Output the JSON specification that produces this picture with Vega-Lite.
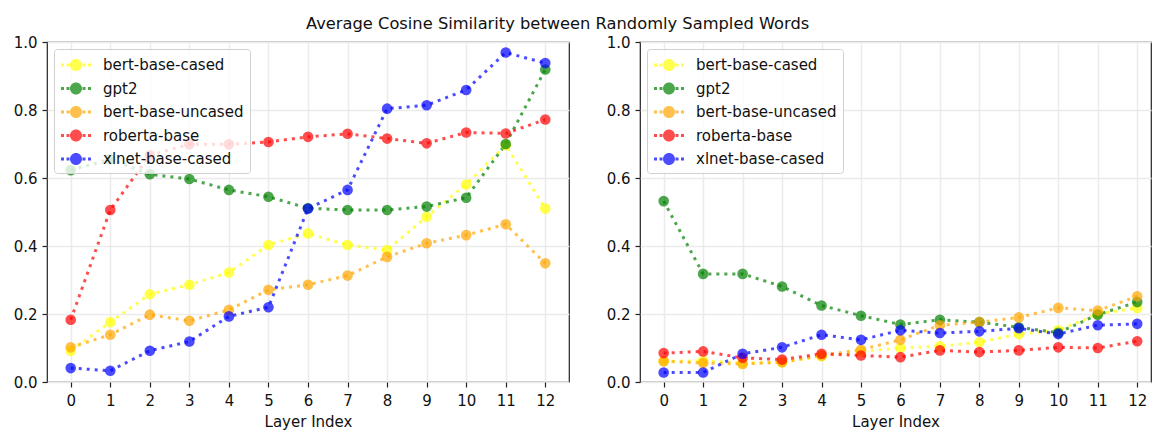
{
  "$schema": "https://vega.github.io/schema/vega-lite/v6.json",
  "background": "white",
  "padding": {"left": 12, "top": 16, "right": 0, "bottom": 0},
  "bounds": "flush",
  "title": {"text": "Average Cosine Similarity between Randomly Sampled Words", "fontSize": 16.3, "font": "DejaVu Sans", "fontWeight": "normal", "color": "#111", "anchor": "start", "frame": "group", "offset": 2, "dx": 259},
  "config": {
    "font": "DejaVu Sans",
    "view": {"stroke": "#222", "strokeWidth": 1.2},
    "axis": {"domain": false, "grid": true, "gridColor": "#ebebeb", "gridWidth": 1.5, "tickColor": "#222", "tickSize": 5, "tickWidth": 1.2, "labelFontSize": 15, "labelColor": "#111", "labelFont": "DejaVu Sans", "titleFont": "DejaVu Sans", "titleFontSize": 15, "titleFontWeight": "normal", "titleColor": "#111", "titlePadding": 6.5},
    "axisX": {"labelPadding": 6},
    "axisY": {"labelPadding": 5},
    "legend": {"orient": "top-left", "offset": 7, "padding": 6, "fillColor": "rgba(255,255,255,0.8)", "strokeColor": "#d0d0d0", "cornerRadius": 3, "labelFontSize": 15, "labelFont": "DejaVu Sans", "labelColor": "#111", "labelOffset": 17, "rowPadding": 5.5, "symbolSize": 400, "symbolOffset": 6, "symbolStrokeWidth": 0, "symbolOpacity": 0.7, "symbolType": "M-1.5,-0.15h0.3v0.3h-0.3z M-0.95,-0.15h0.3v0.3h-0.3z M0.65,-0.15h0.3v0.3h-0.3z M1.2,-0.15h0.3v0.3h-0.3z M-0.6,0a0.6,0.6 0 1,0 1.2,0a0.6,0.6 0 1,0 -1.2,0z"}
  },
  "datasets": {
    "left": [
      {"layer": 0, "model": "bert-base-cased", "value": 0.092}, {"layer": 1, "model": "bert-base-cased", "value": 0.176}, {"layer": 2, "model": "bert-base-cased", "value": 0.258}, {"layer": 3, "model": "bert-base-cased", "value": 0.286}, {"layer": 4, "model": "bert-base-cased", "value": 0.322}, {"layer": 5, "model": "bert-base-cased", "value": 0.403}, {"layer": 6, "model": "bert-base-cased", "value": 0.437}, {"layer": 7, "model": "bert-base-cased", "value": 0.403}, {"layer": 8, "model": "bert-base-cased", "value": 0.388}, {"layer": 9, "model": "bert-base-cased", "value": 0.486}, {"layer": 10, "model": "bert-base-cased", "value": 0.581}, {"layer": 11, "model": "bert-base-cased", "value": 0.697}, {"layer": 12, "model": "bert-base-cased", "value": 0.51},
      {"layer": 0, "model": "gpt2", "value": 0.623}, {"layer": 1, "model": "gpt2", "value": 0.655}, {"layer": 2, "model": "gpt2", "value": 0.611}, {"layer": 3, "model": "gpt2", "value": 0.597}, {"layer": 4, "model": "gpt2", "value": 0.565}, {"layer": 5, "model": "gpt2", "value": 0.545}, {"layer": 6, "model": "gpt2", "value": 0.511}, {"layer": 7, "model": "gpt2", "value": 0.506}, {"layer": 8, "model": "gpt2", "value": 0.506}, {"layer": 9, "model": "gpt2", "value": 0.516}, {"layer": 10, "model": "gpt2", "value": 0.542}, {"layer": 11, "model": "gpt2", "value": 0.70}, {"layer": 12, "model": "gpt2", "value": 0.919},
      {"layer": 0, "model": "bert-base-uncased", "value": 0.102}, {"layer": 1, "model": "bert-base-uncased", "value": 0.139}, {"layer": 2, "model": "bert-base-uncased", "value": 0.198}, {"layer": 3, "model": "bert-base-uncased", "value": 0.18}, {"layer": 4, "model": "bert-base-uncased", "value": 0.212}, {"layer": 5, "model": "bert-base-uncased", "value": 0.271}, {"layer": 6, "model": "bert-base-uncased", "value": 0.286}, {"layer": 7, "model": "bert-base-uncased", "value": 0.313}, {"layer": 8, "model": "bert-base-uncased", "value": 0.368}, {"layer": 9, "model": "bert-base-uncased", "value": 0.408}, {"layer": 10, "model": "bert-base-uncased", "value": 0.432}, {"layer": 11, "model": "bert-base-uncased", "value": 0.464}, {"layer": 12, "model": "bert-base-uncased", "value": 0.349},
      {"layer": 0, "model": "roberta-base", "value": 0.183}, {"layer": 1, "model": "roberta-base", "value": 0.506}, {"layer": 2, "model": "roberta-base", "value": 0.667}, {"layer": 3, "model": "roberta-base", "value": 0.699}, {"layer": 4, "model": "roberta-base", "value": 0.699}, {"layer": 5, "model": "roberta-base", "value": 0.706}, {"layer": 6, "model": "roberta-base", "value": 0.721}, {"layer": 7, "model": "roberta-base", "value": 0.73}, {"layer": 8, "model": "roberta-base", "value": 0.716}, {"layer": 9, "model": "roberta-base", "value": 0.702}, {"layer": 10, "model": "roberta-base", "value": 0.734}, {"layer": 11, "model": "roberta-base", "value": 0.731}, {"layer": 12, "model": "roberta-base", "value": 0.772},
      {"layer": 0, "model": "xlnet-base-cased", "value": 0.041}, {"layer": 1, "model": "xlnet-base-cased", "value": 0.033}, {"layer": 2, "model": "xlnet-base-cased", "value": 0.092}, {"layer": 3, "model": "xlnet-base-cased", "value": 0.119}, {"layer": 4, "model": "xlnet-base-cased", "value": 0.193}, {"layer": 5, "model": "xlnet-base-cased", "value": 0.22}, {"layer": 6, "model": "xlnet-base-cased", "value": 0.51}, {"layer": 7, "model": "xlnet-base-cased", "value": 0.565}, {"layer": 8, "model": "xlnet-base-cased", "value": 0.804}, {"layer": 9, "model": "xlnet-base-cased", "value": 0.814}, {"layer": 10, "model": "xlnet-base-cased", "value": 0.859}, {"layer": 11, "model": "xlnet-base-cased", "value": 0.969}, {"layer": 12, "model": "xlnet-base-cased", "value": 0.938}
    ],
    "right": [
      {"layer": 0, "model": "bert-base-cased", "value": 0.061}, {"layer": 1, "model": "bert-base-cased", "value": 0.062}, {"layer": 2, "model": "bert-base-cased", "value": 0.056}, {"layer": 3, "model": "bert-base-cased", "value": 0.058}, {"layer": 4, "model": "bert-base-cased", "value": 0.076}, {"layer": 5, "model": "bert-base-cased", "value": 0.09}, {"layer": 6, "model": "bert-base-cased", "value": 0.1}, {"layer": 7, "model": "bert-base-cased", "value": 0.105}, {"layer": 8, "model": "bert-base-cased", "value": 0.117}, {"layer": 9, "model": "bert-base-cased", "value": 0.141}, {"layer": 10, "model": "bert-base-cased", "value": 0.152}, {"layer": 11, "model": "bert-base-cased", "value": 0.2}, {"layer": 12, "model": "bert-base-cased", "value": 0.218},
      {"layer": 0, "model": "gpt2", "value": 0.532}, {"layer": 1, "model": "gpt2", "value": 0.318}, {"layer": 2, "model": "gpt2", "value": 0.318}, {"layer": 3, "model": "gpt2", "value": 0.281}, {"layer": 4, "model": "gpt2", "value": 0.225}, {"layer": 5, "model": "gpt2", "value": 0.195}, {"layer": 6, "model": "gpt2", "value": 0.169}, {"layer": 7, "model": "gpt2", "value": 0.183}, {"layer": 8, "model": "gpt2", "value": 0.176}, {"layer": 9, "model": "gpt2", "value": 0.161}, {"layer": 10, "model": "gpt2", "value": 0.145}, {"layer": 11, "model": "gpt2", "value": 0.198}, {"layer": 12, "model": "gpt2", "value": 0.235},
      {"layer": 0, "model": "bert-base-uncased", "value": 0.061}, {"layer": 1, "model": "bert-base-uncased", "value": 0.056}, {"layer": 2, "model": "bert-base-uncased", "value": 0.053}, {"layer": 3, "model": "bert-base-uncased", "value": 0.058}, {"layer": 4, "model": "bert-base-uncased", "value": 0.078}, {"layer": 5, "model": "bert-base-uncased", "value": 0.095}, {"layer": 6, "model": "bert-base-uncased", "value": 0.124}, {"layer": 7, "model": "bert-base-uncased", "value": 0.167}, {"layer": 8, "model": "bert-base-uncased", "value": 0.176}, {"layer": 9, "model": "bert-base-uncased", "value": 0.19}, {"layer": 10, "model": "bert-base-uncased", "value": 0.218}, {"layer": 11, "model": "bert-base-uncased", "value": 0.21}, {"layer": 12, "model": "bert-base-uncased", "value": 0.252},
      {"layer": 0, "model": "roberta-base", "value": 0.085}, {"layer": 1, "model": "roberta-base", "value": 0.09}, {"layer": 2, "model": "roberta-base", "value": 0.071}, {"layer": 3, "model": "roberta-base", "value": 0.066}, {"layer": 4, "model": "roberta-base", "value": 0.083}, {"layer": 5, "model": "roberta-base", "value": 0.078}, {"layer": 6, "model": "roberta-base", "value": 0.073}, {"layer": 7, "model": "roberta-base", "value": 0.093}, {"layer": 8, "model": "roberta-base", "value": 0.088}, {"layer": 9, "model": "roberta-base", "value": 0.093}, {"layer": 10, "model": "roberta-base", "value": 0.102}, {"layer": 11, "model": "roberta-base", "value": 0.1}, {"layer": 12, "model": "roberta-base", "value": 0.12},
      {"layer": 0, "model": "xlnet-base-cased", "value": 0.028}, {"layer": 1, "model": "xlnet-base-cased", "value": 0.028}, {"layer": 2, "model": "xlnet-base-cased", "value": 0.083}, {"layer": 3, "model": "xlnet-base-cased", "value": 0.102}, {"layer": 4, "model": "xlnet-base-cased", "value": 0.139}, {"layer": 5, "model": "xlnet-base-cased", "value": 0.124}, {"layer": 6, "model": "xlnet-base-cased", "value": 0.152}, {"layer": 7, "model": "xlnet-base-cased", "value": 0.144}, {"layer": 8, "model": "xlnet-base-cased", "value": 0.149}, {"layer": 9, "model": "xlnet-base-cased", "value": 0.158}, {"layer": 10, "model": "xlnet-base-cased", "value": 0.141}, {"layer": 11, "model": "xlnet-base-cased", "value": 0.167}, {"layer": 12, "model": "xlnet-base-cased", "value": 0.171}
    ]
  },
  "spacing": 71,
  "resolve": {"scale": {"color": "independent", "x": "independent", "y": "independent"}, "legend": {"color": "independent"}},
  "hconcat": [
    {
      "width": 522, "height": 340,
      "data": {"name": "left"},
      "encoding": {
        "x": {"field": "layer", "type": "quantitative", "scale": {"domain": [-0.6, 12.6], "nice": false, "zero": false}, "axis": {"values": [0,1,2,3,4,5,6,7,8,9,10,11,12], "title": "Layer Index"}},
        "y": {"field": "value", "type": "quantitative", "scale": {"domain": [0, 1], "nice": false}, "axis": {"values": [0, 0.2, 0.4, 0.6, 0.8, 1.0], "format": ".1f", "title": null}},
        "color": {"field": "model", "type": "nominal", "scale": {"domain": ["bert-base-cased", "gpt2", "bert-base-uncased", "roberta-base", "xlnet-base-cased"], "range": ["#ffff00", "#008000", "#ffa500", "#ff0000", "#0000ff"]}, "legend": {"title": null, "encode": {"symbols": {"update": {"fill": {"signal": "datum.value === 'bert-base-cased' ? '#ffff00' : datum.value === 'gpt2' ? '#008000' : datum.value === 'bert-base-uncased' ? '#ffa500' : datum.value === 'roberta-base' ? '#ff0000' : '#0000ff'"}, "stroke": {"value": "transparent"}, "strokeDash": {"value": []}}}}}}
      },
      "layer": [
        {"mark": {"type": "line", "strokeDash": [3, 5], "strokeWidth": 3, "opacity": 0.7, "strokeCap": "butt"}},
        {"mark": {"type": "point", "filled": true, "shape": "circle", "size": 113, "opacity": 0.7}}
      ]
    },
    {
      "width": 511, "height": 340,
      "data": {"name": "right"},
      "encoding": {
        "x": {"field": "layer", "type": "quantitative", "scale": {"domain": [-0.6, 12.35], "nice": false, "zero": false}, "axis": {"values": [0,1,2,3,4,5,6,7,8,9,10,11,12], "title": "Layer Index"}},
        "y": {"field": "value", "type": "quantitative", "scale": {"domain": [0, 1], "nice": false}, "axis": {"values": [0, 0.2, 0.4, 0.6, 0.8, 1.0], "format": ".1f", "title": null}},
        "color": {"field": "model", "type": "nominal", "scale": {"domain": ["bert-base-cased", "gpt2", "bert-base-uncased", "roberta-base", "xlnet-base-cased"], "range": ["#ffff00", "#008000", "#ffa500", "#ff0000", "#0000ff"]}, "legend": {"title": null, "encode": {"symbols": {"update": {"fill": {"signal": "datum.value === 'bert-base-cased' ? '#ffff00' : datum.value === 'gpt2' ? '#008000' : datum.value === 'bert-base-uncased' ? '#ffa500' : datum.value === 'roberta-base' ? '#ff0000' : '#0000ff'"}, "stroke": {"value": "transparent"}, "strokeDash": {"value": []}}}}}}
      },
      "layer": [
        {"mark": {"type": "line", "strokeDash": [3, 5], "strokeWidth": 3, "opacity": 0.7, "strokeCap": "butt"}},
        {"mark": {"type": "point", "filled": true, "shape": "circle", "size": 113, "opacity": 0.7}}
      ]
    }
  ]
}
